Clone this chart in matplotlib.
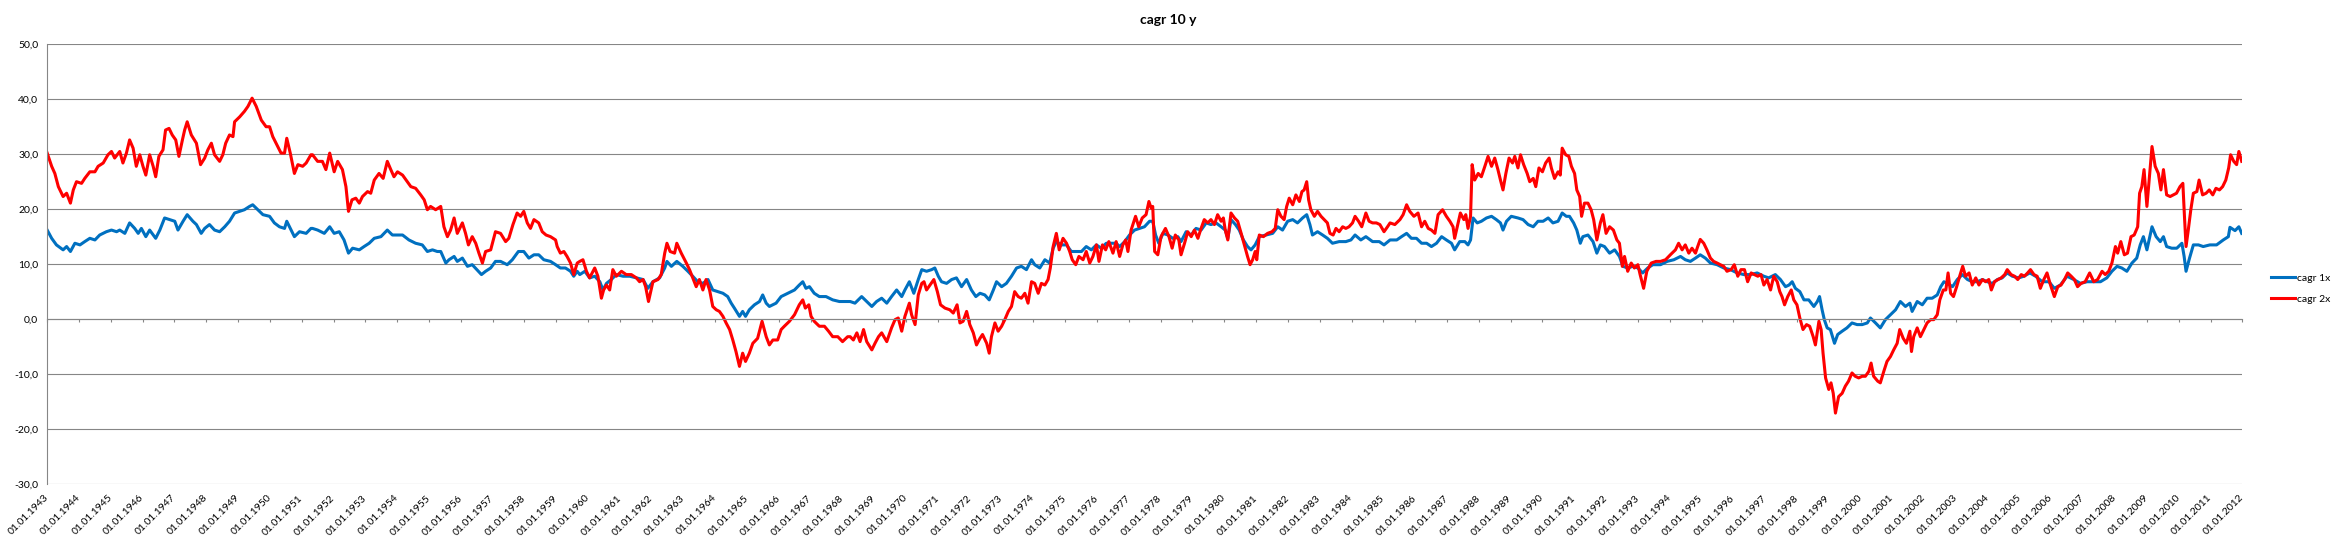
import matplotlib.pyplot as plt

# values (decimal year, cagr in %)
red_years = [
    1943.00, 1943.14, 1943.24, 1943.35, 1943.50, 1943.61, 1943.73, 1943.82, 1943.92, 1944.08,
    1944.18, 1944.34, 1944.50, 1944.60, 1944.76, 1944.91, 1945.02, 1945.12, 1945.28, 1945.38,
    1945.49, 1945.59, 1945.70, 1945.80, 1945.91, 1946.01, 1946.10, 1946.22, 1946.33, 1946.41,
    1946.51, 1946.64, 1946.72, 1946.83, 1946.93, 1947.04, 1947.14, 1947.25, 1947.32, 1947.40,
    1947.53, 1947.69, 1947.82, 1947.95, 1948.05, 1948.16, 1948.26, 1948.42, 1948.52, 1948.61,
    1948.73, 1948.84, 1948.89, 1949.05, 1949.20, 1949.31, 1949.44, 1949.57, 1949.73, 1949.88,
    1949.99, 1950.09, 1950.22, 1950.35, 1950.46, 1950.53, 1950.64, 1950.77, 1950.88, 1951.03,
    1951.14, 1951.29,
    1951.34, 1951.50, 1951.65, 1951.76, 1951.88, 1952.02, 1952.13, 1952.28, 1952.39, 1952.47,
    1952.58, 1952.70, 1952.81, 1952.91, 1953.07, 1953.17, 1953.28, 1953.43, 1953.56, 1953.69,
    1953.80, 1953.90, 1954.01, 1954.17, 1954.32, 1954.43, 1954.58, 1954.74, 1954.85, 1954.95,
    1955.05, 1955.21, 1955.37, 1955.47, 1955.58, 1955.68, 1955.79, 1955.89, 1956.05, 1956.15,
    1956.24, 1956.36, 1956.47, 1956.57, 1956.68, 1956.78, 1956.94, 1957.09, 1957.25, 1957.41,
    1957.51, 1957.64, 1957.77, 1957.88, 1957.98, 1958.09, 1958.19, 1958.30, 1958.45, 1958.56,
    1958.68, 1958.82, 1958.98, 1959.03, 1959.13, 1959.24, 1959.34, 1959.45, 1959.55, 1959.66,
    1959.74, 1959.84, 1959.95, 1960.05, 1960.21, 1960.31, 1960.42, 1960.49, 1960.58, 1960.68,
    1960.78, 1960.89, 1961.05, 1961.20, 1961.36, 1961.52, 1961.62, 1961.73, 1961.81, 1961.90,
    1962.04, 1962.20, 1962.30, 1962.41, 1962.48, 1962.58, 1962.72, 1962.79, 1962.93, 1963.09,
    1963.19, 1963.29, 1963.40, 1963.50, 1963.61, 1963.71, 1963.82, 1963.92, 1964.03, 1964.13,
    1964.24, 1964.34, 1964.45, 1964.55, 1964.65, 1964.76, 1964.86, 1964.95, 1965.07, 1965.18,
    1965.33, 1965.47, 1965.60, 1965.70, 1965.81, 1965.96, 1966.07, 1966.17, 1966.33, 1966.49,
    1966.64, 1966.75, 1966.83, 1966.94, 1967.01, 1967.11, 1967.27, 1967.43, 1967.56, 1967.69,
    1967.85, 1968.00, 1968.16,
    1968.24, 1968.34, 1968.45, 1968.55, 1968.66, 1968.76, 1968.92, 1969.02, 1969.13, 1969.23,
    1969.39, 1969.54, 1969.65, 1969.75, 1969.86, 1969.96, 1970.10, 1970.17, 1970.28, 1970.38,
    1970.49, 1970.56, 1970.64, 1970.75, 1970.87, 1970.98, 1971.08, 1971.22, 1971.37, 1971.48,
    1971.60, 1971.69, 1971.79, 1971.90, 1972.00, 1972.11, 1972.21, 1972.32, 1972.40, 1972.53,
    1972.61, 1972.68, 1972.79, 1972.89, 1973.00, 1973.10, 1973.21, 1973.31, 1973.41, 1973.52,
    1973.62, 1973.73, 1973.83, 1973.94, 1974.04, 1974.15, 1974.25, 1974.36, 1974.46, 1974.53,
    1974.62, 1974.72, 1974.81, 1974.93, 1975.04, 1975.14, 1975.22, 1975.33, 1975.43, 1975.56,
    1975.66, 1975.77, 1975.87, 1975.98, 1976.06, 1976.17, 1976.27, 1976.37, 1976.50, 1976.60,
    1976.71, 1976.81, 1976.90, 1976.97, 1977.07, 1977.21, 1977.31, 1977.42, 1977.54, 1977.63,
    1977.70, 1977.75, 1977.81, 1977.91, 1978.01, 1978.15, 1978.26, 1978.36, 1978.46, 1978.57,
    1978.64, 1978.75, 1978.85, 1978.96, 1979.06, 1979.17, 1979.27, 1979.37, 1979.48, 1979.58,
    1979.69, 1979.79, 1979.90, 1979.97, 1980.03, 1980.11, 1980.21, 1980.32, 1980.42, 1980.53,
    1980.63, 1980.73, 1980.81, 1980.89, 1980.97, 1981.02, 1981.10, 1981.23, 1981.36, 1981.50,
    1981.60, 1981.68, 1981.78, 1981.88, 1981.96, 1982.04, 1982.15, 1982.25, 1982.36, 1982.44,
    1982.51, 1982.59, 1982.65, 1982.72, 1982.83, 1982.93, 1983.04, 1983.14, 1983.24, 1983.32,
    1983.42, 1983.51, 1983.61, 1983.72, 1983.82, 1983.92, 1984.03, 1984.11, 1984.22, 1984.32,
    1984.45, 1984.55, 1984.66, 1984.78, 1984.89, 1985.02, 1985.13,
    1985.21, 1985.36, 1985.52, 1985.62, 1985.73, 1985.83, 1985.96, 1986.09, 1986.20, 1986.30,
    1986.41, 1986.51, 1986.62, 1986.72, 1986.86, 1986.98, 1987.09, 1987.19, 1987.24, 1987.35,
    1987.42, 1987.53, 1987.59, 1987.66, 1987.74, 1987.79, 1987.87, 1987.98, 1988.08, 1988.19,
    1988.29, 1988.40, 1988.50, 1988.60, 1988.68, 1988.76, 1988.85, 1988.95, 1989.06, 1989.13,
    1989.23, 1989.31, 1989.41, 1989.52, 1989.60, 1989.71, 1989.79, 1989.89, 1990.00, 1990.10,
    1990.21, 1990.28, 1990.38, 1990.49, 1990.56, 1990.62, 1990.73, 1990.83, 1990.91, 1991.01,
    1991.08, 1991.17, 1991.23, 1991.32, 1991.43, 1991.53, 1991.61, 1991.71, 1991.82, 1991.90,
    1992.00, 1992.11, 1992.23, 1992.34, 1992.42, 1992.51, 1992.58, 1992.68, 1992.79, 1992.89,
    1993.00, 1993.07, 1993.18, 1993.28, 1993.42, 1993.57,
    1993.71, 1993.87, 1994.02, 1994.18, 1994.28, 1994.39, 1994.49, 1994.60, 1994.70, 1994.81,
    1994.88, 1994.96, 1995.07, 1995.17, 1995.28, 1995.38, 1995.49, 1995.59, 1995.70, 1995.80,
    1995.93, 1996.03, 1996.14, 1996.24, 1996.35, 1996.45, 1996.56, 1996.66, 1996.77, 1996.87,
    1996.96, 1997.06, 1997.17, 1997.27, 1997.38, 1997.46, 1997.53, 1997.61, 1997.71, 1997.82,
    1997.90, 1998.00, 1998.09, 1998.19, 1998.30, 1998.40, 1998.51, 1998.58, 1998.69, 1998.76,
    1998.82, 1998.90, 1999.00, 1999.07, 1999.14, 1999.21, 1999.31, 1999.42, 1999.52, 1999.62,
    1999.73, 1999.83, 1999.94, 2000.05, 2000.15, 2000.26, 2000.33, 2000.41, 2000.54, 2000.62,
    2000.73, 2000.83, 2000.94, 2001.04, 2001.15, 2001.23, 2001.34, 2001.44, 2001.55, 2001.60,
    2001.67, 2001.78, 2001.88, 2001.99, 2002.09, 2002.20, 2002.30, 2002.41, 2002.49,
    2002.60, 2002.68, 2002.75, 2002.83, 2002.92, 2003.02, 2003.13, 2003.21, 2003.30, 2003.41,
    2003.51, 2003.62, 2003.72, 2003.83, 2003.93, 2004.03, 2004.11, 2004.21, 2004.32, 2004.42,
    2004.53, 2004.61, 2004.73, 2004.84, 2004.94, 2005.05, 2005.15, 2005.25, 2005.34, 2005.45,
    2005.55, 2005.65, 2005.76, 2005.86, 2005.97, 2006.09, 2006.20, 2006.30, 2006.41, 2006.51,
    2006.62, 2006.72, 2006.82, 2006.93, 2007.06, 2007.20, 2007.33, 2007.45, 2007.59, 2007.69,
    2007.80, 2007.90, 2008.01, 2008.08, 2008.18, 2008.29, 2008.39, 2008.50, 2008.60, 2008.71,
    2008.77, 2008.84, 2008.91, 2009.00, 2009.08, 2009.16, 2009.26, 2009.36, 2009.44, 2009.52,
    2009.62, 2009.73, 2009.83, 2009.93, 2010.04, 2010.13, 2010.18, 2010.23, 2010.30, 2010.38,
    2010.46, 2010.57, 2010.64, 2010.75, 2010.86, 2010.96, 2011.07, 2011.17, 2011.28, 2011.38,
    2011.48, 2011.57, 2011.63, 2011.73, 2011.82, 2011.89, 2011.98,
]
red_vals = [
    30.2, 27.8, 26.5, 24.1, 22.3, 22.9, 21.1, 23.5, 25.0, 24.7,
    25.6, 26.8, 26.8, 27.8, 28.4, 29.9, 30.5, 29.3, 30.5, 28.4,
    30.2, 32.6, 31.1, 27.8, 29.9, 27.8, 26.2, 29.9, 27.8, 25.9,
    29.6, 30.8, 34.4, 34.7, 33.5, 32.6, 29.6, 32.6, 34.4, 35.9,
    33.5, 32.0, 28.1, 29.3, 30.8, 32.0, 29.9, 28.7, 29.9, 32.0,
    33.5, 33.2, 35.9, 36.8, 37.8, 38.7, 40.2, 38.7, 36.2, 35.0,
    35.0, 33.2, 31.7, 30.2, 30.2, 32.9, 30.2, 26.5, 28.1, 27.8,
    28.4, 29.9,
    29.9, 28.7, 28.7, 27.2, 30.2, 26.8, 28.7, 27.2, 24.1, 19.6,
    21.7, 22.0, 21.1, 22.3, 23.2, 22.9, 25.3, 26.5, 25.6, 28.7,
    27.2, 25.9, 26.8, 26.2, 25.0, 24.1, 23.8, 22.6, 21.7, 19.9,
    20.5, 19.9, 20.5, 16.8, 15.0, 16.2, 18.4, 15.6, 17.5, 15.6,
    13.5, 15.0, 13.8, 12.0, 10.2, 12.3, 12.6, 15.9, 15.6, 14.1,
    14.7, 17.2, 19.3, 18.7, 19.6, 17.5, 16.5, 18.1, 17.5, 15.9,
    15.3, 15.0, 14.4, 13.2, 12.0, 12.3, 11.4, 10.2, 8.1, 10.2,
    10.5, 10.8, 8.7, 7.5, 9.3, 7.8, 3.8, 5.3, 6.2, 5.3,
    9.0, 7.8, 8.7, 8.1, 8.1, 7.5, 6.8, 7.2, 5.9, 3.2,
    6.8, 7.2, 8.1, 12.0, 13.8, 12.3, 12.0, 13.8, 12.0, 10.2,
    9.0, 7.5, 5.9, 7.2, 5.3, 7.2, 5.3, 2.3, 1.7, 1.4,
    0.5, -0.7, -1.9, -3.8, -5.9, -8.6, -6.2, -7.7, -6.2, -4.4,
    -3.5, -0.4, -3.2, -4.7, -3.8, -3.8, -1.9, -1.3, -0.4, 0.8,
    2.6, 3.5, 2.0, 2.6, 0.5, -0.4, -1.3, -1.3, -2.2, -3.2,
    -3.2, -4.1, -3.2,
    -3.2, -3.8, -2.5, -4.1, -1.9, -4.1, -5.6, -4.4, -3.2, -2.5,
    -4.1, -1.6, -0.1, 0.2, -2.2, 0.5, 2.9, 0.8, -1.0, 4.4,
    6.5, 6.8, 5.3, 6.2, 7.2, 5.0, 2.6, 2.0, 1.7, 1.1,
    2.6, -0.7, -0.4, 1.4, -1.0, -2.5, -4.7, -3.5, -2.8, -4.4,
    -6.2, -3.2, -0.7, -2.2, -1.3, -0.1, 1.4, 2.3, 5.0, 4.1,
    3.8, 4.7, 2.9, 6.8, 6.5, 4.7, 6.5, 6.2, 7.2, 9.3,
    13.2, 15.6, 12.6, 14.7, 13.8, 12.3, 10.8, 9.9, 11.4, 10.8,
    12.3, 10.2, 11.4, 13.5, 10.5, 13.5, 12.6, 14.1, 12.0, 14.1,
    11.4, 13.5, 14.4, 12.3, 16.2, 18.7, 16.8, 18.4, 19.0, 21.4,
    20.2, 20.5, 12.3, 11.7, 15.0, 16.5, 15.0, 12.9, 15.3, 14.4,
    11.7, 13.8, 15.9, 15.0, 16.2, 14.7, 16.5, 18.1, 17.5, 18.1,
    17.2, 19.0, 17.8, 18.4, 16.2, 14.4, 19.3, 18.4, 17.8, 15.6,
    13.5, 11.4, 9.9, 10.8, 12.3, 10.8, 15.3, 15.0, 15.6, 15.9,
    16.5, 19.9, 18.7, 18.1, 20.5, 22.0, 20.8, 22.6, 21.4, 23.2,
    23.5, 25.0, 21.7, 19.9, 18.7, 19.6, 18.7, 18.1, 17.5, 15.6,
    15.3, 16.5, 15.9, 16.8, 16.5, 16.8, 17.5, 18.7, 17.8, 16.8,
    19.3, 17.8, 17.5, 17.5, 17.2, 15.9, 16.8,
    17.5, 17.2, 18.1, 19.0, 20.8, 19.6, 18.7, 19.3, 16.8, 17.8,
    16.5, 16.2, 15.6, 19.0, 19.9, 18.7, 17.8, 16.8, 14.7, 17.5,
    19.3, 18.1, 19.0, 16.5, 18.7, 28.1, 25.3, 26.5, 25.9, 27.8,
    29.6, 27.8, 29.3, 27.2, 25.3, 23.5, 26.5, 29.3, 28.4, 29.6,
    27.5, 29.9, 28.1, 26.5, 25.0, 25.6, 24.1, 27.5, 26.8, 28.4,
    29.3, 27.5, 25.6, 26.8, 26.2, 31.1, 29.9, 29.6, 27.8, 26.5,
    23.5, 22.3, 18.7, 21.1, 21.1, 19.9, 18.1, 14.4, 17.5, 19.0,
    15.6, 16.8, 16.2, 14.4, 13.8, 9.6, 11.4, 8.7, 10.2, 9.3,
    9.9, 8.1, 5.6, 8.7, 10.2, 10.5,
    10.5, 10.8, 11.7, 12.6, 13.8, 12.6, 13.5, 12.0, 12.9, 12.0,
    13.2, 14.5, 13.8, 12.6, 11.1, 10.5, 10.2, 9.9, 9.6, 8.7,
    9.0, 9.9, 7.8, 9.0, 9.0, 6.8, 8.4, 8.1, 7.8, 8.1,
    6.2, 7.2, 5.3, 7.8, 6.8, 5.0, 4.1, 2.6, 4.1, 5.3,
    3.5, 2.6, 0.2, -1.9, -1.0, -1.3, -3.2, -4.7, -0.4, -1.9,
    -6.2, -10.7, -12.8, -11.6, -13.5, -17.1, -14.1, -13.5, -12.2, -11.3,
    -9.8, -10.4, -10.7, -10.4, -10.4, -9.5, -8.0, -10.4, -11.3, -11.6,
    -9.5, -7.7, -6.8, -5.6, -4.4, -1.9, -3.5, -4.4, -2.2, -5.9,
    -3.2, -1.6, -3.2, -1.9, -0.7, -0.1, -0.1, 0.8, 3.5,
    5.3, 5.3, 8.4, 4.7, 4.1, 5.9, 8.1, 9.6, 7.8, 8.4,
    6.2, 7.5, 6.2, 7.2, 6.8, 7.2, 5.3, 6.8, 7.2, 7.5,
    8.1, 9.0, 8.1, 7.8, 7.2, 8.1, 7.8, 8.4, 9.0, 8.1,
    7.8, 5.6, 7.2, 8.4, 6.2, 4.1, 5.9, 6.2, 7.2, 8.4,
    7.8, 7.2, 5.9, 6.5, 6.8, 8.4, 6.8, 7.2, 8.7, 8.1,
    8.7, 10.2, 13.2, 12.0, 14.1, 11.7, 12.0, 15.0, 15.3, 16.8,
    22.9, 24.1, 27.2, 20.5, 25.9, 31.4, 27.8, 26.5, 23.5, 27.2,
    22.6, 22.3, 22.6, 22.9, 24.1, 24.7, 18.7, 13.2, 16.2, 19.9,
    22.9, 23.2, 25.3, 22.6, 22.9, 23.5, 22.6, 23.8, 23.5, 24.1,
    25.3, 27.5, 29.9, 28.7, 28.1, 30.5, 28.7,
]

blue_years = [
    1943.00, 1943.14, 1943.29, 1943.50, 1943.61, 1943.73, 1943.87, 1944.03, 1944.18, 1944.34,
    1944.50, 1944.65, 1944.86, 1945.02, 1945.18, 1945.28, 1945.44, 1945.59, 1945.75, 1945.86,
    1945.96, 1946.10, 1946.22, 1946.41, 1946.54, 1946.69, 1946.85, 1947.01, 1947.11, 1947.27,
    1947.40, 1947.58, 1947.69, 1947.84, 1947.95, 1948.10, 1948.26, 1948.42, 1948.58, 1948.73,
    1948.89, 1949.05, 1949.20, 1949.36, 1949.46, 1949.62, 1949.78, 1949.99, 1950.14, 1950.30,
    1950.46, 1950.53, 1950.64, 1950.77, 1950.93, 1951.14, 1951.29,
    1951.34, 1951.50, 1951.71, 1951.88, 1952.02, 1952.18, 1952.33, 1952.47, 1952.60, 1952.81,
    1952.96, 1953.12, 1953.28, 1953.49, 1953.69, 1953.85, 1954.01, 1954.17, 1954.37, 1954.58,
    1954.79, 1954.95, 1955.11, 1955.26, 1955.37, 1955.53, 1955.63, 1955.79, 1955.89, 1956.05,
    1956.21, 1956.36, 1956.52, 1956.65, 1956.78, 1956.94, 1957.09, 1957.25, 1957.46, 1957.62,
    1957.81, 1957.98, 1958.14, 1958.30, 1958.45, 1958.61, 1958.82, 1958.98, 1959.13, 1959.29,
    1959.45, 1959.55, 1959.66,
    1959.74, 1959.90, 1960.05, 1960.21, 1960.37, 1960.47, 1960.58, 1960.73, 1960.89, 1961.10,
    1961.31, 1961.52, 1961.73, 1961.88, 1962.04, 1962.25, 1962.41, 1962.48, 1962.62, 1962.79,
    1962.98, 1963.14, 1963.29, 1963.45, 1963.61, 1963.77, 1963.92, 1964.08, 1964.24, 1964.39,
    1964.50, 1964.60, 1964.76, 1964.86, 1964.95, 1965.07, 1965.23, 1965.39, 1965.49, 1965.60,
    1965.70, 1965.91, 1966.07, 1966.28, 1966.49, 1966.64, 1966.75, 1966.85, 1966.96, 1967.11,
    1967.27, 1967.48, 1967.69, 1967.90, 1968.11,
    1968.24, 1968.39, 1968.60, 1968.76, 1968.92, 1969.07, 1969.23, 1969.39, 1969.54, 1969.70,
    1969.86, 1969.96, 1970.10, 1970.24, 1970.38, 1970.49, 1970.64, 1970.80, 1970.90, 1971.01,
    1971.11, 1971.27, 1971.43, 1971.58, 1971.74, 1971.90, 1972.05, 1972.19, 1972.32, 1972.47,
    1972.61, 1972.74, 1972.84, 1973.00, 1973.15, 1973.31, 1973.47, 1973.62, 1973.78, 1973.94,
    1974.04, 1974.20, 1974.36, 1974.51, 1974.62, 1974.72, 1974.88, 1975.04, 1975.19, 1975.35,
    1975.51, 1975.66, 1975.82, 1975.98, 1976.13, 1976.29, 1976.45, 1976.60,
    1976.71, 1976.87, 1977.02, 1977.18, 1977.33, 1977.49, 1977.65, 1977.75, 1977.84, 1977.94,
    1978.07, 1978.23, 1978.38, 1978.54, 1978.64, 1978.80, 1978.96, 1979.11, 1979.27, 1979.43,
    1979.58, 1979.74, 1979.90, 1980.03, 1980.11, 1980.21, 1980.35, 1980.47, 1980.60, 1980.73,
    1980.84, 1980.97, 1981.10, 1981.31, 1981.52, 1981.68, 1981.83, 1981.99, 1982.15, 1982.30,
    1982.46, 1982.59, 1982.69, 1982.77, 1982.93, 1983.09, 1983.24, 1983.40, 1983.61, 1983.82,
    1983.98, 1984.11, 1984.29, 1984.45, 1984.66, 1984.87, 1985.02,
    1985.21, 1985.42, 1985.57, 1985.73, 1985.88, 1986.04, 1986.20, 1986.36, 1986.51, 1986.67,
    1986.83, 1986.98, 1987.14, 1987.24, 1987.40, 1987.56, 1987.66, 1987.74, 1987.82, 1987.95,
    1988.08, 1988.24, 1988.40, 1988.55, 1988.68, 1988.76, 1988.87, 1989.02, 1989.23, 1989.39,
    1989.55, 1989.71, 1989.86, 1990.02, 1990.18, 1990.33, 1990.49, 1990.62, 1990.75, 1990.85,
    1990.98, 1991.08, 1991.19, 1991.27, 1991.43, 1991.59, 1991.71, 1991.82, 1991.95, 1992.11,
    1992.27, 1992.42, 1992.53, 1992.68, 1992.84, 1993.00, 1993.15, 1993.31, 1993.47,
    1993.71, 1993.92, 1994.13, 1994.34, 1994.49, 1994.65, 1994.81, 1994.96, 1995.12, 1995.28,
    1995.49, 1995.70, 1995.91, 1996.12, 1996.33, 1996.54, 1996.75, 1996.96, 1997.11, 1997.32,
    1997.48, 1997.64, 1997.75, 1997.85, 1997.95, 1998.09, 1998.22, 1998.37, 1998.53, 1998.64,
    1998.71, 1998.79, 1998.86, 1998.95, 1999.05, 1999.18, 1999.28, 1999.42, 1999.57, 1999.73,
    1999.89, 2000.05, 2000.21, 2000.31, 2000.47, 2000.62, 2000.78, 2000.94, 2001.10, 2001.25,
    2001.41, 2001.55, 2001.62, 2001.78, 2001.94, 2002.09, 2002.25, 2002.41,
    2002.52, 2002.62, 2002.73, 2002.89, 2003.04, 2003.20, 2003.36, 2003.51, 2003.67, 2003.83,
    2003.98, 2004.14, 2004.30, 2004.45, 2004.61, 2004.77, 2004.97, 2005.13, 2005.32, 2005.50,
    2005.71, 2005.92, 2006.09, 2006.28, 2006.49, 2006.70, 2006.91, 2007.12, 2007.33, 2007.54,
    2007.74, 2007.90, 2008.06, 2008.21, 2008.37, 2008.53, 2008.68, 2008.79, 2008.89, 2009.00,
    2009.08, 2009.16, 2009.29, 2009.42, 2009.52, 2009.62, 2009.78, 2009.94, 2010.10, 2010.17,
    2010.23, 2010.34, 2010.46, 2010.62, 2010.77, 2010.98, 2011.19, 2011.40, 2011.56, 2011.61,
    2011.77, 2011.89, 2011.98,
]
blue_vals = [
    16.2, 14.7, 13.5, 12.6, 13.2, 12.3, 13.8, 13.5, 14.1, 14.7,
    14.4, 15.3, 15.9, 16.2, 15.9, 16.2, 15.6, 17.5, 16.5, 15.6,
    16.5, 15.0, 16.2, 14.7, 16.2, 18.4, 18.1, 17.8, 16.2, 17.8,
    19.0, 17.8, 17.2, 15.6, 16.5, 17.2, 16.2, 15.9, 16.8, 17.8,
    19.3, 19.6, 19.9, 20.5, 20.8, 19.9, 19.0, 18.7, 17.5, 16.8,
    16.5, 17.8, 16.5, 15.0, 15.9, 15.6, 16.5,
    16.5, 16.2, 15.6, 16.8, 15.6, 15.9, 14.4, 12.0, 12.9, 12.6,
    13.2, 13.8, 14.7, 15.0, 16.2, 15.3, 15.3, 15.3, 14.4, 13.8,
    13.5, 12.3, 12.6, 12.3, 12.3, 10.2, 10.8, 11.4, 10.5, 11.1,
    9.6, 9.9, 8.9, 8.1, 8.7, 9.3, 10.5, 10.5, 9.9, 10.8,
    12.3, 12.3, 11.1, 11.7, 11.7, 10.8, 10.5, 9.9, 9.3, 9.3,
    8.7, 7.8, 8.7,
    8.1, 8.7, 7.5, 7.8, 6.8, 5.3, 6.5, 7.2, 8.1, 7.8,
    7.8, 7.5, 7.2, 5.6, 6.8, 7.5, 9.3, 10.5, 9.6, 10.5,
    9.6, 8.7, 7.8, 6.8, 6.5, 7.2, 5.3, 5.0, 4.7, 4.1,
    2.9, 2.0, 0.5, 1.4, 0.5, 1.7, 2.6, 3.2, 4.4, 2.9,
    2.3, 2.9, 4.1, 4.7, 5.3, 6.2, 6.8, 5.6, 5.9, 4.7,
    4.1, 4.1, 3.5, 3.2, 3.2,
    3.2, 2.9, 4.1, 3.2, 2.3, 3.2, 3.8, 2.9, 4.1, 5.3,
    4.1, 5.3, 6.8, 4.7, 7.2, 9.0, 8.7, 9.0, 9.3, 7.8,
    6.8, 6.5, 7.2, 7.5, 5.9, 7.2, 5.3, 4.1, 4.7, 4.4,
    3.5, 5.3, 6.8, 5.9, 6.5, 7.8, 9.3, 9.6, 9.0, 10.8,
    9.9, 9.3, 10.8, 10.2, 12.9, 14.1, 13.5, 13.5, 12.3, 12.3,
    12.3, 13.2, 12.6, 13.5, 12.9, 13.8, 13.8, 13.8,
    13.2, 14.1, 15.3, 16.2, 16.5, 16.8, 17.8, 17.8, 15.3, 13.8,
    15.6, 15.3, 14.7, 15.0, 14.1, 15.9, 15.3, 16.5, 16.2, 17.5,
    17.2, 17.5, 16.8, 16.2, 14.7, 18.1, 17.2, 16.2, 14.4, 13.2,
    12.6, 13.5, 15.0, 15.3, 15.6, 16.8, 16.2, 17.8, 18.1, 17.5,
    18.4, 19.0, 17.2, 15.3, 15.9, 15.3, 14.7, 13.8, 14.1, 14.1,
    14.4, 15.3, 14.4, 15.0, 14.1, 14.1, 13.5,
    14.4, 14.4, 15.0, 15.6, 14.7, 14.7, 13.8, 13.8, 13.2, 13.8,
    15.0, 14.4, 13.8, 12.6, 14.1, 14.1, 13.5, 14.4, 18.4, 17.5,
    17.8, 18.4, 18.7, 18.1, 17.5, 16.2, 17.8, 18.7, 18.4, 18.1,
    17.2, 16.8, 17.8, 17.8, 18.4, 17.5, 17.8, 19.3, 18.7, 18.7,
    17.5, 16.2, 13.8, 15.0, 15.3, 14.1, 12.0, 13.5, 13.2, 12.0,
    12.6, 11.4, 9.6, 9.3, 9.6, 9.3, 8.4, 9.3, 9.9,
    9.9, 10.5, 10.8, 11.4, 10.8, 10.5, 11.1, 11.7, 11.1, 10.2,
    9.9, 9.3, 9.0, 8.4, 8.1, 8.1, 8.4, 7.8, 7.5, 8.1,
    7.2, 5.9, 6.2, 6.8, 5.6, 5.0, 3.5, 3.5, 2.3, 3.2,
    4.1, 1.7, -0.1, -1.6, -1.9, -4.4, -2.8, -2.2, -1.6, -0.7,
    -1.0, -1.0, -0.7, 0.2, -0.7, -1.6, -0.1, 0.8, 1.7, 3.2,
    2.3, 2.9, 1.4, 3.2, 2.6, 3.8, 3.8, 4.4,
    5.9, 6.8, 6.5, 5.9, 7.2, 8.1, 7.2, 6.8, 6.8, 7.2,
    6.8, 6.5, 7.2, 7.5, 8.4, 7.8, 7.5, 7.8, 8.4, 7.8,
    6.8, 6.8, 5.6, 6.2, 7.8, 7.2, 6.5, 6.8, 6.8, 6.8,
    7.5, 8.7, 9.6, 9.3, 8.7, 10.2, 11.1, 13.5, 15.0, 12.6,
    14.7, 16.8, 15.0, 14.1, 15.0, 13.2, 12.9, 12.9, 13.8, 11.4,
    8.7, 11.1, 13.5, 13.5, 13.2, 13.5, 13.5, 14.4, 15.0, 16.7,
    16.1, 16.8, 15.6,
]

tick_years = list(range(1943, 2013))
tick_labels = ["01.01.%d" % y for y in tick_years]
y_ticks = [-30, -20, -10, 0, 10, 20, 30, 40, 50]
y_labels = ["-30,0", "-20,0", "-10,0", "0,0", "10,0", "20,0", "30,0", "40,0", "50,0"]

plt.rcParams["font.family"] = ["Lato", "DejaVu Sans"]

fig = plt.figure(figsize=(23.37, 5.44), dpi=100)
ax = fig.add_axes([0.0202, 0.1103, 0.9393, 0.8083])

ax.plot(blue_years, blue_vals, color="#0070C0", linewidth=2.2, label="cagr 1x")
ax.plot(red_years, red_vals, color="#FF0000", linewidth=2.2, label="cagr 2x")

ax.set_xlim(1943, 2012)
ax.set_ylim(-30, 50)
ax.set_yticks(y_ticks, y_labels)
ax.grid(axis="y", color="#868686", linewidth=0.8)
ax.set_axisbelow(True)

for s in ["top", "right"]:
    ax.spines[s].set_visible(False)
ax.spines["left"].set_color("#868686")
ax.spines["left"].set_linewidth(0.8)
ax.spines["bottom"].set_position(("data", 0))
ax.spines["bottom"].set_color("#868686")
ax.spines["bottom"].set_linewidth(0.8)

ax.set_xticks(tick_years)
ax.tick_params(axis="x", direction="out", length=2.5, width=0.8, color="#868686", labelbottom=False)
ax.tick_params(axis="y", length=0, pad=6.5, labelsize=7.5, labelcolor="black")

# date labels sit below the bottom of the plot, while the ticks sit on the 0 line
sec = ax.secondary_xaxis("bottom")
sec.set_xticks(tick_years, tick_labels)
sec.tick_params(length=0, pad=9, labelsize=7.5, labelcolor="black")
sec.spines["bottom"].set_visible(False)
for lbl in sec.get_xticklabels():
    lbl.set_rotation(45)
    lbl.set_ha("right")
    lbl.set_va("center")
    lbl.set_rotation_mode("anchor")

ax.legend(loc="center left", bbox_to_anchor=(1.0131, 0.4446), frameon=False,
          fontsize=7.5, handlelength=2.3, handletextpad=0.2, labelspacing=1.1,
          borderpad=0, borderaxespad=0)

fig.suptitle("cagr 10 y", x=0.5, y=1 - 20 / 544, va="center", fontsize=10, fontweight="bold")

fig.savefig("out.png", dpi=100)
